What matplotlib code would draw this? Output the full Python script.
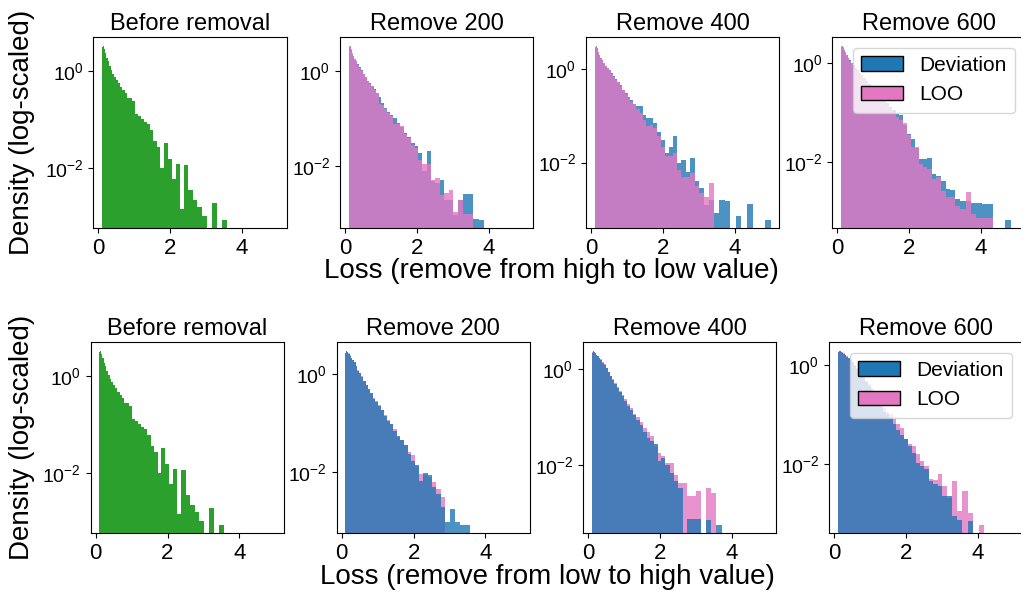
import numpy as np
import matplotlib.pyplot as plt
from matplotlib.patches import Patch
from matplotlib.ticker import NullLocator

plt.rcParams['font.family'] = ['Liberation Sans', 'DejaVu Sans']
plt.rcParams['mathtext.fontset'] = 'custom'
plt.rcParams['mathtext.rm'] = 'Liberation Sans'
plt.rcParams['mathtext.it'] = 'Liberation Sans:italic'
plt.rcParams['mathtext.bf'] = 'Liberation Sans:bold'

# loss histograms: 50 bins between loss 0.1 and 5 (equal steps in sqrt(loss))
# values are log10(density), None = empty bin
titles = ['Before removal', 'Remove 200', 'Remove 400', 'Remove 600']
row_xlabels = ['Loss (remove from high to low value)',
               'Loss (remove from low to high value)']

before = [0.50, 0.52, 0.46, 0.38, 0.28, 0.20, 0.10, 0.02, -0.06, -0.12,
          -0.18, -0.24, -0.32, -0.38, -0.45, -0.55, -0.55, -0.62, -0.88, -0.92,
          -0.98, -1.05, -1.10, -1.22, -1.45, -1.57, -2.00, -1.48, -1.81, -2.24,
          -1.91, -2.85, -1.95, -2.46, -2.67, -2.80, -2.99, None, -2.72, None,
          -3.07, None, None, None, None, None, None, None, None, None]

# high -> low removal
h200_dev = [0.50, 0.52, 0.45, 0.37, 0.31, 0.26, 0.22, 0.15, 0.08, 0.02,
            -0.05, -0.12, -0.20, -0.25, -0.32, -0.38, -0.45, -0.55, -0.66, -0.78,
            -0.86, -0.92, -0.98, -1.08, -1.18, -1.30, -1.38, -1.50, -1.58, -1.73,
            -2.10, -1.68, -2.30, -2.35, -2.28, -2.70, -2.70, -3.02, -2.70, -2.58,
            -2.58, -3.10, -3.12, None, None, None, None, None, None, None]
h200_loo = [0.52, 0.53, 0.47, 0.38, 0.31, 0.25, 0.21, 0.14, 0.07, 0.01,
            -0.05, -0.13, -0.21, -0.26, -0.32, -0.40, -0.46, -0.68, -0.72, -0.80,
            -0.88, -0.94, -1.10, -1.12, -1.16, -1.32, -1.40, -1.55, -1.62, -1.86,
            -1.95, -1.96, -2.28, -2.24, -2.60, -2.55, -2.49, -2.95, -2.70, -3.00,
            -3.00, None, None, None, None, None, None, None, None, None]
h400_dev = [0.46, 0.49, 0.44, 0.36, 0.30, 0.24, 0.19, 0.13, 0.07, 0.03,
            -0.02, -0.08, -0.15, -0.22, -0.27, -0.35, -0.45, -0.52, -0.60, -0.66,
            -0.74, -0.80, -0.80, -0.98, -1.05, -1.05, -1.16, -1.35, -1.52, -1.80,
            -1.66, -1.44, -2.00, -1.94, -2.20, -1.91, -2.40, -2.55, -2.90, -2.80,
            -3.08, -2.80, -2.83, None, -3.15, None, -2.88, None, None, -3.22]
h400_loo = [0.47, 0.49, 0.45, 0.37, 0.30, 0.24, 0.18, 0.12, 0.06, 0.02,
            -0.03, -0.10, -0.17, -0.24, -0.28, -0.37, -0.46, -0.54, -0.62, -0.70,
            -0.76, -0.85, -0.95, -1.10, -1.23, -1.20, -1.27, -1.44, -1.66, -1.85,
            -1.85, -1.80, -2.15, -2.30, -2.30, -2.23, -2.50, -2.65, -2.73, -2.44,
            None, None, None, None, None, None, None, None, None, None]
h600_dev = [0.32, 0.34, 0.30, 0.26, 0.20, 0.15, 0.10, 0.05, 0.00, -0.05,
            -0.10, -0.15, -0.20, -0.25, -0.31, -0.36, -0.42, -0.48, -0.55, -0.62,
            -0.68, -0.75, -0.82, -0.90, -0.95, -1.03, -1.05, -1.25, -1.43, -1.55,
            -1.72, -1.94, -1.94, -1.92, -2.25, -2.28, -2.38, -2.55, -2.57, -2.76,
            -2.80, -2.80, -2.83, -2.83, -2.86, -2.86, None, None, -3.17, None]
h600_loo = [0.33, 0.34, 0.31, 0.26, 0.21, 0.15, 0.09, 0.04, -0.01, -0.05,
            -0.11, -0.16, -0.20, -0.27, -0.32, -0.38, -0.44, -0.50, -0.56, -0.63,
            -0.70, -0.78, -0.86, -0.93, -1.00, -1.10, -1.15, -1.22, -1.45, -1.70,
            -1.70, -2.05, -2.10, -2.15, -2.35, -2.30, -2.60, -2.72, -2.72, -2.90,
            -2.95, -2.62, -3.05, -3.13, -3.13, -3.13, None, None, None, None]

# low -> high removal
l200_dev = [0.44, 0.48, 0.46, 0.42, 0.38, 0.34, 0.30, 0.25, 0.17, 0.08,
            0.02, -0.06, -0.14, -0.22, -0.30, -0.38, -0.50, -0.56, -0.64, -0.72,
            -0.84, -0.95, -1.02, -1.15, -1.25, -1.35, -1.45, -1.62, -1.76, -1.86,
            -2.17, -2.02, -2.05, -2.30, -2.45, -2.72, -3.02, -2.75, -3.02, -3.07,
            -3.07, None, None, None, None, None, None, None, None, None]
l200_loo = [0.44, 0.48, 0.46, 0.43, 0.39, 0.34, 0.30, 0.26, 0.18, 0.09,
            0.03, -0.04, -0.13, -0.21, -0.29, -0.37, -0.48, -0.55, -0.62, -0.72,
            -0.82, -0.93, -1.02, -1.12, -1.27, -1.33, -1.44, -1.58, -1.64, -1.88,
            -2.03, -2.05, -2.10, -2.20, -2.34, -2.51, None, None, None, None,
            None, None, None, None, None, None, None, None, None, None]
l400_dev = [0.34, 0.38, 0.36, 0.33, 0.30, 0.27, 0.24, 0.20, 0.14, 0.09,
            0.02, -0.06, -0.15, -0.22, -0.30, -0.38, -0.47, -0.55, -0.65, -0.76,
            -0.84, -0.95, -1.05, -1.15, -1.30, -1.42, -1.50, -1.55, -1.91, -1.85,
            -2.00, -2.15, -2.33, -2.46, None, -3.11, -3.12, -3.12, None, -3.14,
            None, -3.23, None, None, None, None, None, None, None, None]
l400_loo = [0.35, 0.38, 0.36, 0.33, 0.30, 0.27, 0.24, 0.21, 0.15, 0.10,
            0.03, -0.05, -0.13, -0.20, -0.28, -0.36, -0.45, -0.53, -0.62, -0.72,
            -0.80, -0.92, -1.00, -1.10, -1.22, -1.30, -1.38, -1.60, -1.74, -1.80,
            -1.94, -1.94, -2.19, -2.36, -2.36, -2.64, -2.64, -2.53, None, -2.47,
            -2.58, None, None, None, None, None, None, None, None, None]
l600_dev = [0.26, 0.28, 0.27, 0.26, 0.24, 0.22, 0.19, 0.16, 0.13, 0.10,
            0.05, -0.03, -0.08, -0.14, -0.19, -0.27, -0.34, -0.42, -0.50, -0.58,
            -0.66, -0.76, -0.95, -1.00, -1.07, -1.20, -1.31, -1.41, -1.50, -1.64,
            -1.78, -1.98, -2.05, -2.10, -2.35, -2.40, -2.45, -2.65, -2.65, -3.06,
            -3.13, None, -3.16, None, None, None, None, None, None, None]
l600_loo = [0.26, 0.28, 0.27, 0.26, 0.25, 0.23, 0.20, 0.17, 0.14, 0.11,
            0.06, -0.01, -0.06, -0.12, -0.17, -0.25, -0.32, -0.39, -0.47, -0.55,
            -0.63, -0.72, -0.88, -0.95, -1.00, -1.10, -1.20, -1.27, -1.50, -1.60,
            -1.64, -1.80, -1.95, -2.05, -2.30, -2.32, -2.20, -2.45, -2.70, -2.35,
            -2.95, -2.55, -3.00, None, -3.23, None, None, None, None, None]

high_to_low = [(h200_dev, h200_loo), (h400_dev, h400_loo), (h600_dev, h600_loo)]
low_to_high = [(l200_dev, l200_loo), (l400_dev, l400_loo), (l600_dev, l600_loo)]

edges = np.linspace(np.sqrt(0.1), np.sqrt(5.0), 51) ** 2
green = '#2ca02c'
blue = '#1f77b4'
pink = '#e377c2'


def draw_hist(ax, logd, color, alpha):
    h = 10 ** np.array(logd, dtype=float)
    ok = ~np.isnan(h)
    ax.bar(edges[:-1][ok], h[ok], width=np.diff(edges)[ok], align='edge',
           color=color, alpha=alpha, linewidth=0)


def style_axes(ax, series, title):
    vals = np.concatenate([np.array(s, dtype=float) for s in series])
    lo, hi = np.nanmin(vals), np.nanmax(vals)
    m = 0.05 * (hi - lo)
    ax.set_yscale('log')
    ax.set_ylim(10 ** (lo - m), 10 ** (hi + m))
    ax.set_yticks([1e-2, 1e0])
    ax.yaxis.set_minor_locator(NullLocator())
    ax.set_xlim(-0.14, 5.24)
    ax.set_xticks([0, 2, 4])
    ax.tick_params(axis='x', labelsize=16)
    ax.tick_params(axis='y', labelsize=14)
    ax.set_title(title, fontsize=17, pad=5)


fig = plt.figure(figsize=(10.21, 5.95), dpi=100)
row_lefts = [[0.0914, 0.333, 0.574, 0.815], [0.0888, 0.3298, 0.571, 0.812]]
row_bottoms = [0.6163, 0.1037]
w, hgt = 0.1893, 0.321

for r, pairs in enumerate([high_to_low, low_to_high]):
    ax = fig.add_axes([row_lefts[r][0], row_bottoms[r], w, hgt])
    draw_hist(ax, before, green, 1.0)
    style_axes(ax, [before], titles[0])
    for c, (dev, loo) in enumerate(pairs):
        ax = fig.add_axes([row_lefts[r][c + 1], row_bottoms[r], w, hgt])
        if r == 0:
            draw_hist(ax, dev, blue, 0.8)
            draw_hist(ax, loo, pink, 0.8)
        else:
            draw_hist(ax, loo, pink, 0.8)
            draw_hist(ax, dev, blue, 0.8)
        style_axes(ax, [dev, loo], titles[c + 1])
        if c == 2:
            handles = [Patch(facecolor=blue, edgecolor='black'),
                       Patch(facecolor=pink, edgecolor='black')]
            ax.legend(handles, ['Deviation', 'LOO'], loc='upper right', fontsize=15)
    fig.text(0.022, row_bottoms[r] + hgt / 2, 'Density (log-scaled)',
             rotation=90, fontsize=20, ha='center', va='center')

fig.text(0.5397, 0.5445, row_xlabels[0], fontsize=20, ha='center', va='center')
fig.text(0.536, 0.031, row_xlabels[1], fontsize=20, ha='center', va='center')

fig.savefig('out.png', dpi=100)
